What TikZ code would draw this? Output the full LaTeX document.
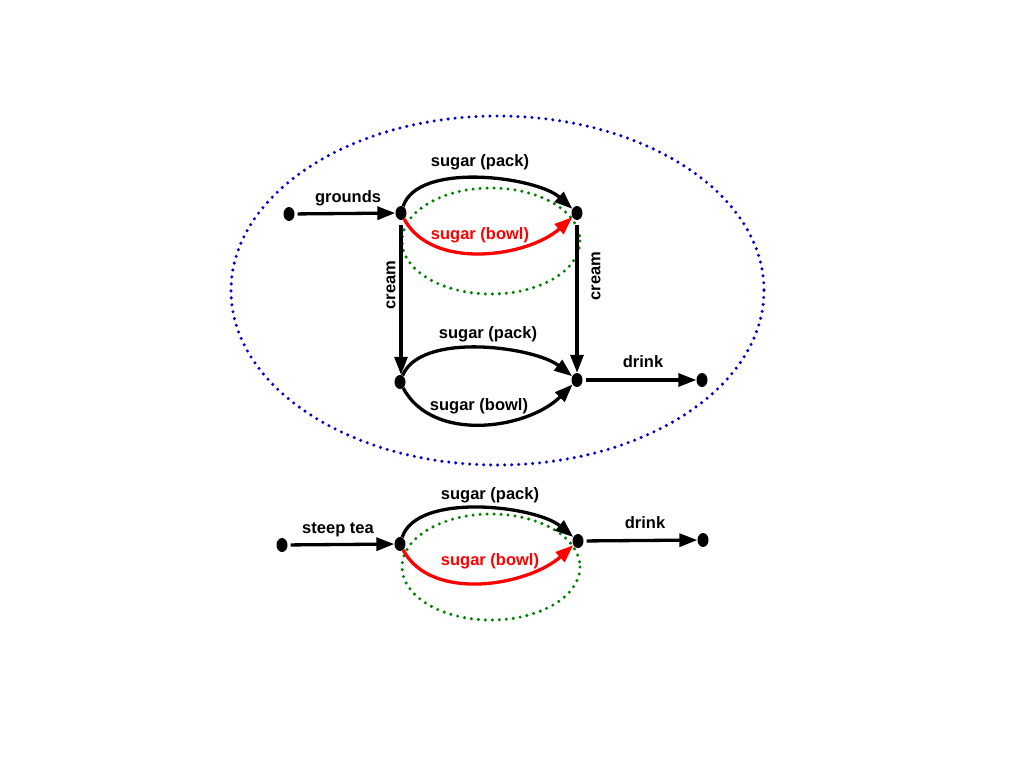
\documentclass[tikz,border=0pt]{standalone}
\usepackage{fontspec}
\setmainfont{Liberation Sans}
\usetikzlibrary{shapes.geometric,arrows.meta}
\begin{document}
\begin{tikzpicture}[x=1pt,y=-1pt,
  dot/.style={ellipse,fill=black,inner sep=0pt,minimum width=11pt,minimum height=14pt},
  arr/.style={line width=3.3pt,-{Triangle[length=18pt,width=13pt]}},
  lbl/.style={font=\fontsize{16.5}{19}\selectfont\bfseries,inner sep=1pt},
  dotline/.style={line width=3.4pt,line cap=round,dash pattern=on 0pt off 7pt}]
\path[use as bounding box] (0,0) rectangle (1024,768);
% groups
\draw[dotline,blue!80!black] (497.5,290.5) ellipse [x radius=266.5,y radius=174.5];
\draw[dotline,green!50!black] (491,241) ellipse [x radius=89,y radius=53];
\draw[dotline,green!50!black] (491,567) ellipse [x radius=89,y radius=53];
% nodes
\node[dot] (a) at (289,214) {};
\node[dot] (b) at (401,213) {};
\node[dot] (c) at (577,213) {};
\node[dot] (d) at (400,382) {};
\node[dot] (e) at (577,380) {};
\node[dot] (f) at (702,380) {};
\node[dot] (g) at (282,545) {};
\node[dot] (h) at (400,544) {};
\node[dot] (i) at (578,541) {};
\node[dot] (j) at (703,540) {};
% top
\draw[arr,shorten <=3pt] (a) -- (b);
\node[lbl] (lg) at (348,198) {grounds};
\draw[arr] (b) to[out=72,in=138,looseness=0.72] (c);
\node[lbl] (lp1) at (480,162) {sugar (pack)};
\draw[arr,red] (b) to[out=-62,in=-138,looseness=0.9] (c);
\node[lbl,text=red] (lb1) at (480,235) {sugar (bowl)};
\draw[arr,shorten <=5pt] (b.south) -- (b.south |- d.north);
\node[lbl,rotate=90] (lc1) at (391,285) {cream};
\draw[arr,shorten <=5pt] (c.south) -- (e.north);
\node[lbl,rotate=90] (lc2) at (596,276) {cream};
% middle
\draw[arr] (d) to[out=68,in=142,looseness=0.72] (e);
\node[lbl] (lp2) at (488,334) {sugar (pack)};
\draw[arr] (d) to[out=-62,in=-135,looseness=0.95] (e);
\node[lbl] (lb2) at (479,406) {sugar (bowl)};
\draw[arr,shorten <=3pt] (e) -- (f);
\node[lbl] (ld1) at (643,362) {drink};
% bottom
\draw[arr,shorten <=3pt] (g) -- (h);
\node[lbl] (ls) at (338,530) {steep tea};
\draw[arr] (h) to[out=72,in=140,looseness=0.72] (i);
\node[lbl] (lp3) at (490,495) {sugar (pack)};
\draw[arr,red] (h) to[out=-62,in=-138,looseness=0.9] (i);
\node[lbl,text=red] (lb3) at (490,561) {sugar (bowl)};
\draw[arr,shorten <=3pt] (i) -- (j);
\node[lbl] (ld2) at (645,523) {drink};
\end{tikzpicture}
\end{document}
